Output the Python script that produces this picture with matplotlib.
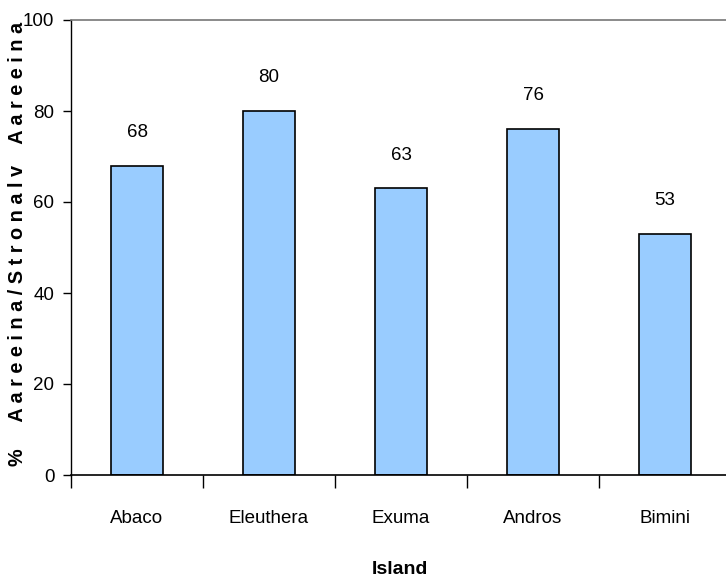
import matplotlib
matplotlib.use("Agg")
import matplotlib.pyplot as plt
from matplotlib.ticker import FixedLocator

# Survey results by island
islands = ["Abaco", "Eleuthera", "Exuma", "Andros", "Bimini"]
agree_pct = [68, 80, 63, 76, 53]
y_ticks = [0, 20, 40, 60, 80, 100]
y_label = "%     A a r e e i n a / S t r o n a l v    A a r e e i n a"
x_label = "Island"

plt.rcParams["font.family"] = ["Liberation Sans", "DejaVu Sans"]

fig = plt.figure(figsize=(7.26, 5.81), dpi=100)
ax = fig.add_axes([71 / 726, 1 - 475 / 581, 660 / 726, 455 / 581])

pos = list(range(len(islands)))
ax.bar(pos, agree_pct, width=0.4, color="#99CCFF",
       edgecolor="black", linewidth=1.2, zorder=2)

for x, v in zip(pos, agree_pct):
    ax.annotate(str(v), (x, v), xytext=(0, 24), textcoords="offset points",
                ha="center", va="center", fontsize=13.5)

ax.set_xlim(-0.5, len(islands) - 0.5)
ax.set_ylim(0, 100)

ax.set_xticks(pos)
ax.set_xticklabels(islands, fontsize=13.5)
ax.xaxis.set_minor_locator(FixedLocator([p - 0.5 for p in pos]))
ax.tick_params(axis="x", which="major", length=0, pad=25)
ax.tick_params(axis="x", which="minor", length=9, width=1, color="black",
               direction="out")

ax.set_yticks(y_ticks)
ax.set_yticklabels([str(t) for t in y_ticks], fontsize=13.5)
ax.tick_params(axis="y", length=6, width=1, direction="out", pad=6)

ax.spines["right"].set_visible(False)
ax.spines["top"].set_color("#777777")
ax.spines["top"].set_linewidth(1.2)
ax.spines["left"].set_linewidth(1.0)
ax.spines["bottom"].set_linewidth(1.2)

fig.text(18 / 726, 1 - 244 / 581, y_label, rotation=90, ha="center",
         va="center", fontsize=14.3, fontweight="bold")
fig.text(400 / 726, 1 - 570 / 581, x_label, ha="center", va="center",
         fontsize=14, fontweight="bold")

fig.savefig("out.png", dpi=100)
